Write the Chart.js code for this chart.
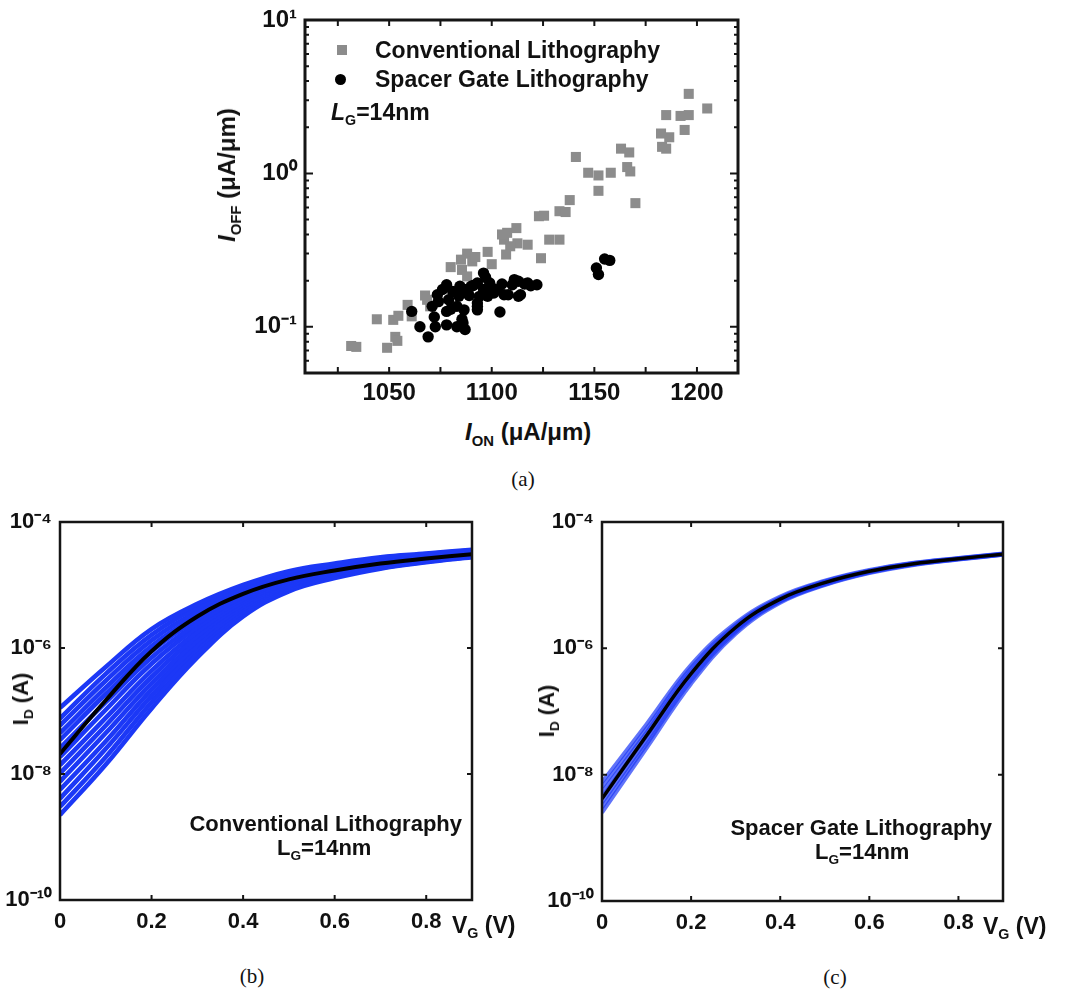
<!DOCTYPE html>
<html><head><meta charset="utf-8">
<script src="https://cdn.jsdelivr.net/npm/chart.js@4.4.1/dist/chart.umd.min.js"></script>
<style>
html,body{margin:0;padding:0;background:#fff;}
body{width:1066px;height:991px;position:relative;overflow:hidden;font-family:"Liberation Sans",Arial,sans-serif;}
.cv{position:absolute;}
.t{position:absolute;white-space:nowrap;font-weight:bold;color:#111;line-height:1;transform:translateY(-50%);}
.r{transform:translate(-100%,-50%);}
.rot{transform:translate(-50%,-50%) rotate(-90deg);}
.cap{position:absolute;font-family:"Liberation Serif","Times New Roman",serif;font-size:21px;transform:translate(-50%,-50%);line-height:1;color:#111;}
sub{font-size:0.62em;vertical-align:-0.38em;line-height:0;}
.sq{position:absolute;width:10px;height:10px;background:rgb(140,140,140);}
.dot{position:absolute;width:11px;height:11px;border-radius:50%;background:#000;}
</style></head>
<body>
<div class="cv" style="left:200px;top:0px"><canvas id="ca" width="560" height="410"></canvas></div>
<div class="cv" style="left:0px;top:500px"><canvas id="cb" width="500" height="440"></canvas></div>
<div class="cv" style="left:540px;top:500px"><canvas id="cc" width="520" height="440"></canvas></div>

<!-- panel (a) texts -->
<div class="sq" style="left:337px;top:45px"></div>
<div class="dot" style="left:335px;top:74px"></div>
<div class="t" style="left:375px;top:50px;font-size:23px">Conventional Lithography</div>
<div class="t" style="left:375px;top:79px;font-size:23px">Spacer Gate Lithography</div>
<div class="t" style="left:331px;top:112px;font-size:23px"><i>L</i><sub>G</sub>=14nm</div>
<div class="t" style="left:465px;top:432px;font-size:24px"><i>I</i><sub>ON</sub> (μA/μm)</div>
<div class="t rot" style="left:227px;top:175px;font-size:24px"><i>I</i><sub>OFF</sub> (μA/μm)</div>
<div class="cap" style="left:523px;top:479px">(a)</div>

<!-- panel (b) texts -->
<div class="t r" style="left:462px;top:824px;font-size:22px">Conventional Lithography</div>
<div class="t" style="left:277px;top:848px;font-size:22px">L<sub>G</sub>=14nm</div>
<div class="t" style="left:452px;top:925px;font-size:23px">V<sub>G</sub> (V)</div>
<div class="t rot" style="left:21px;top:699px;font-size:22px">I<sub>D</sub> (A)</div>
<div class="cap" style="left:252px;top:976px">(b)</div>

<!-- panel (c) texts -->
<div class="t r" style="left:992px;top:828px;font-size:22px">Spacer Gate Lithography</div>
<div class="t" style="left:815px;top:852px;font-size:22px">L<sub>G</sub>=14nm</div>
<div class="t" style="left:983px;top:926px;font-size:23px">V<sub>G</sub> (V)</div>
<div class="t rot" style="left:547px;top:711px;font-size:22px">I<sub>D</sub> (A)</div>
<div class="cap" style="left:835px;top:977px">(c)</div>

<script>
// ---------- (a) I_OFF vs I_ON scatter ----------
const ionConv  = [1031.5,1034,1044,1049,1052,1054.5,1053,1054,1059,1061,1067.5,1068.5,1070,1080,1085.5,1088,1088,1090.5,1092,1085,1098,1100,1106,1107.5,1112,1105,1112.5,1117.5,1109,1107,1124,1128,1133,1123,1125.5,1133,1136,1138,1141,1147,1152,1158,1152,1163,1167,1166,1167.5,1170,1182.5,1186.5,1183,1185,1185,1192,1196,1194,1196,1205];
const ioffConv = [0.075,0.074,0.112,0.073,0.111,0.118,0.086,0.081,0.139,0.117,0.16,0.15,0.136,0.245,0.235,0.213,0.30,0.267,0.285,0.274,0.308,0.256,0.37,0.41,0.44,0.40,0.35,0.343,0.335,0.296,0.28,0.37,0.37,0.526,0.53,0.567,0.56,0.67,1.28,1.01,0.97,1.01,0.77,1.45,1.37,1.10,1.03,0.64,1.82,1.72,1.49,1.45,2.4,2.37,2.4,1.92,3.3,2.65];
const ionSpacer  = [1061,1065,1069,1072.5,1072,1071,1074,1073.5,1076,1078,1079,1078,1078,1080,1083,1087,1086,1085.5,1083,1086.5,1084,1086.5,1084.5,1088,1090,1091,1093,1096,1097,1093,1098,1093,1093,1094,1096,1101,1099,1103,1106,1110,1104,1108,1111,1114,1113,1117.5,1122,1113,1081,1089,1100,1105,1116,1119,1151,1152,1155,1157.5];
const ioffSpacer = [0.126,0.1,0.086,0.1,0.116,0.136,0.146,0.162,0.175,0.188,0.15,0.126,0.103,0.13,0.1,0.096,0.106,0.112,0.136,0.129,0.158,0.175,0.184,0.175,0.184,0.186,0.193,0.224,0.21,0.143,0.158,0.129,0.136,0.158,0.175,0.166,0.193,0.175,0.162,0.188,0.125,0.162,0.203,0.162,0.198,0.193,0.188,0.158,0.17,0.16,0.18,0.19,0.19,0.185,0.242,0.219,0.277,0.271];
const ionTicks = [1050,1100,1150,1200];
const ionTickMarks = [1025,1050,1075,1100,1125,1150,1175,1200];
const ioffTicks = [0.1,1,10];
const ioffTickLabels = ['10\u207B\u00B9','10\u2070','10\u00B9'];
const ioffMinorMarks = [0.06,0.07,0.08,0.09,0.2,0.3,0.4,0.5,0.6,0.7,0.8,0.9,2,3,4,5,6,7,8,9];

// ---------- (b),(c) I_D - V_G transfer curves (log10 of I_D in A) ----------
const vg = [0,0.1,0.2,0.3,0.4,0.5,0.6,0.7,0.8,0.9];
const vgTicks = [0,0.2,0.4,0.6,0.8];
const vgTickLabels = ['0','0.2','0.4','0.6','0.8'];
const idTicks = [1e-10,1e-8,1e-6,1e-4];
const idTickLabels = ['10\u207B\u00B9\u2070','10\u207B\u2078','10\u207B\u2076','10\u207B\u2074'];
const idTickMarks = [1e-8,1e-6];

const convMeanLog = [-7.68,-6.83,-6.05,-5.50,-5.14,-4.91,-4.77,-4.66,-4.58,-4.51];
const convCurvesLog = [
  [-6.95,-6.30,-5.70,-5.30,-5.00,-4.78,-4.66,-4.56,-4.50,-4.44],
  [-7.12,-6.41,-5.79,-5.36,-5.04,-4.80,-4.68,-4.57,-4.51,-4.45],
  [-7.23,-6.52,-5.88,-5.42,-5.07,-4.82,-4.69,-4.59,-4.52,-4.46],
  [-7.35,-6.63,-5.97,-5.48,-5.11,-4.85,-4.71,-4.60,-4.53,-4.47],
  [-7.46,-6.73,-6.05,-5.54,-5.14,-4.87,-4.72,-4.61,-4.54,-4.47],
  [-7.59,-6.86,-6.15,-5.61,-5.18,-4.90,-4.74,-4.63,-4.55,-4.48],
  [-7.73,-6.98,-6.25,-5.67,-5.22,-4.92,-4.76,-4.64,-4.56,-4.49],
  [-7.86,-7.11,-6.36,-5.74,-5.26,-4.95,-4.78,-4.65,-4.57,-4.50],
  [-7.99,-7.23,-6.46,-5.81,-5.30,-4.97,-4.80,-4.67,-4.58,-4.51],
  [-8.12,-7.35,-6.56,-5.88,-5.34,-5.00,-4.82,-4.68,-4.60,-4.52],
  [-8.25,-7.48,-6.66,-5.95,-5.38,-5.02,-4.83,-4.70,-4.61,-4.53],
  [-8.39,-7.60,-6.76,-6.01,-5.42,-5.05,-4.85,-4.71,-4.62,-4.54],
  [-8.52,-7.73,-6.86,-6.08,-5.46,-5.07,-4.87,-4.73,-4.63,-4.55],
  [-8.65,-7.85,-6.96,-6.15,-5.50,-5.10,-4.89,-4.74,-4.64,-4.56]
];
const spacerMeanLog = [-8.38,-7.38,-6.40,-5.67,-5.22,-4.96,-4.78,-4.66,-4.58,-4.51];
const spacerCurvesLog = [
  [-8.12,-7.20,-6.26,-5.60,-5.18,-4.93,-4.76,-4.645,-4.570,-4.500],
  [-8.20,-7.27,-6.31,-5.63,-5.20,-4.94,-4.77,-4.650,-4.574,-4.503],
  [-8.28,-7.33,-6.36,-5.66,-5.21,-4.95,-4.78,-4.657,-4.578,-4.507],
  [-8.36,-7.39,-6.41,-5.69,-5.23,-4.97,-4.79,-4.663,-4.583,-4.510],
  [-8.44,-7.46,-6.46,-5.71,-5.25,-4.98,-4.79,-4.668,-4.587,-4.513],
  [-8.52,-7.52,-6.51,-5.74,-5.26,-4.99,-4.80,-4.674,-4.591,-4.517],
  [-8.60,-7.58,-6.56,-5.77,-5.28,-5.00,-4.81,-4.680,-4.595,-4.520]
];

// ---------- helpers ----------
const FONT = '"Liberation Sans", Arial, sans-serif';
const frameTicks = {
  id: 'frameTicks',
  afterDraw(chart, args, o) {
    const {ctx, chartArea: a, scales: {x, y}} = chart;
    ctx.save();
    ctx.strokeStyle = '#151515';
    ctx.lineWidth = o.tickWidth;
    ctx.beginPath();
    (o.xMarks || []).forEach(v => {
      const p = x.getPixelForValue(v);
      ctx.moveTo(p, a.bottom); ctx.lineTo(p, a.bottom - o.xLen);
      ctx.moveTo(p, a.top); ctx.lineTo(p, a.top + o.xLen);
    });
    (o.yMajor || []).forEach(v => {
      const p = y.getPixelForValue(v);
      ctx.moveTo(a.left, p); ctx.lineTo(a.left + o.yLen, p);
      ctx.moveTo(a.right, p); ctx.lineTo(a.right - o.yLen, p);
    });
    (o.yMinor || []).forEach(v => {
      const p = y.getPixelForValue(v);
      ctx.moveTo(a.left, p); ctx.lineTo(a.left + o.yMinorLen, p);
      ctx.moveTo(a.right, p); ctx.lineTo(a.right - o.yMinorLen, p);
    });
    ctx.stroke();
    ctx.lineWidth = o.frameWidth;
    ctx.strokeRect(a.left, a.top, a.right - a.left, a.bottom - a.top);
    ctx.restore();
  }
};

function axis(type, min, max, tickVals, tickLabels, fontSize, pad, fitSize, isX) {
  return {
    type, min, max,
    grid: {display: false}, border: {display: false},
    afterBuildTicks: s => { s.ticks = tickVals.map(v => ({value: v})); },
    afterFit: s => { if (isX) s.height = fitSize; else s.width = fitSize; },
    ticks: {
      autoSkip: false, maxRotation: 0, minRotation: 0, padding: pad, color: '#111',
      font: {family: FONT, size: fontSize, weight: 'bold'},
      callback: v => { const i = tickVals.indexOf(v); return i >= 0 ? tickLabels[i] : ''; }
    }
  };
}
const baseOpts = {responsive: false, animation: false, events: []};

// ---------- chart (a) ----------
new Chart(document.getElementById('ca'), {
  type: 'scatter',
  data: {datasets: [
    {label: 'Spacer Gate Lithography', order: 0,
     data: ionSpacer.map((v, i) => ({x: v, y: ioffSpacer[i]})),
     pointStyle: 'circle', pointRadius: 5.7, backgroundColor: '#000', borderColor: '#000', borderWidth: 0},
    {label: 'Conventional Lithography', order: 1,
     data: ionConv.map((v, i) => ({x: v, y: ioffConv[i]})),
     pointStyle: 'rect', pointRadius: 7.1, backgroundColor: 'rgb(140,140,140)', borderColor: 'rgb(140,140,140)', borderWidth: 0}
  ]},
  options: Object.assign({}, baseOpts, {
    layout: {padding: {top: 20, right: 22, left: 0, bottom: 0}},
    scales: {
      x: axis('linear', 1009, 1220, ionTicks, ionTicks.map(String), 24, -2, 37, true),
      y: axis('logarithmic', 0.05, 10, ioffTicks, ioffTickLabels, 24, 0, 105, false)
    },
    plugins: {legend: {display: false}, tooltip: {enabled: false},
      frameTicks: {tickWidth: 2, frameWidth: 3, xMarks: ionTickMarks, xLen: 6,
                   yMajor: ioffTicks, yLen: 8, yMinor: ioffMinorMarks, yMinorLen: 4}}
  }),
  plugins: [frameTicks]
});

// ---------- charts (b), (c) ----------
function transferChart(id, curvesLog, meanLog, curveColor, curveWidth, meanWidth, yFit, padRight, xFit) {
  const ds = curvesLog.map((c, k) => ({
    label: 'device ' + (k + 1), order: 1,
    data: vg.map((v, i) => ({x: v, y: Math.pow(10, c[i])})),
    borderColor: curveColor, borderWidth: curveWidth, pointRadius: 0,
    tension: 0.4, fill: false
  }));
  ds.push({label: 'mean', order: 0,
    data: vg.map((v, i) => ({x: v, y: Math.pow(10, meanLog[i])})),
    borderColor: '#000', borderWidth: meanWidth, pointRadius: 0,
    tension: 0.4, fill: false});
  new Chart(document.getElementById(id), {
    type: 'line',
    data: {datasets: ds},
    options: Object.assign({}, baseOpts, {
      layout: {padding: {top: 22, right: padRight, left: 0, bottom: 0}},
      scales: {
        x: axis('linear', 0, 0.9, vgTicks, vgTickLabels, 22, 1, xFit, true),
        y: axis('logarithmic', 1e-10, 1e-4, idTicks, idTickLabels, 22, 0, yFit, false)
      },
      plugins: {legend: {display: false}, tooltip: {enabled: false},
        frameTicks: {tickWidth: 2, frameWidth: 2.5, xMarks: vgTicks.slice(1), xLen: 5,
                     yMajor: idTickMarks, yLen: 5, yMinor: [], yMinorLen: 0}}
    }),
    plugins: [frameTicks]
  });
}
transferChart('cb', convCurvesLog, convMeanLog, 'rgb(28,56,246)', 4.6, 4, 60, 28, 40);
transferChart('cc', spacerCurvesLog, spacerMeanLog, 'rgba(28,56,246,0.7)', 4, 3.5, 62, 57, 39);
</script>
</body></html>
